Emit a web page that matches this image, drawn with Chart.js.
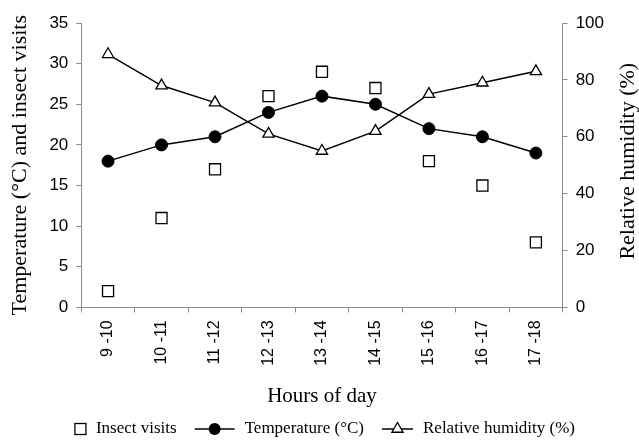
<!DOCTYPE html>
<html><head><meta charset="utf-8">
<script src="https://cdn.jsdelivr.net/npm/chart.js@4/dist/chart.umd.min.js"></script>
<style>html,body{margin:0;padding:0;background:#fff}#wrap{width:639px;height:440px}</style>
</head><body><div id="wrap"><canvas id="c" width="639" height="440"></canvas></div>
<script>
const hours = ['9 -10','10 -11','11 -12','12 -13','13 -14','14 -15','15 -16','16 -17','17 -18'];
const insectVisits = [2, 11, 17, 26, 29, 27, 18, 15, 8];
const temperature = [18, 20, 21, 24, 26, 25, 22, 21, 19];
const humidity = [89, 78, 72, 61, 55, 62, 75, 79, 83];
const leftTicks = [0, 5, 10, 15, 20, 25, 30, 35];
const rightTicks = [0, 20, 40, 60, 80, 100];
const leftTitle = 'Temperature (°C) and insect visits';
const rightTitle = 'Relative humidity (%)';
const xTitle = 'Hours of day';

const AXIS = '#8c8c8c';
const SANS = '"Liberation Sans", Arial, sans-serif';
const SERIF = '"Liberation Serif", "Times New Roman", serif';

const symbolWidths = [11, 40, 31];

const extrasPlugin = {
  id: 'extras',
  afterDraw(chart) {
    const ctx = chart.ctx;
    const area = chart.chartArea;
    // right axis title (reads bottom-to-top)
    ctx.save();
    ctx.font = '22px ' + SERIF;
    ctx.fillStyle = '#000';
    ctx.textAlign = 'center';
    ctx.textBaseline = 'middle';
    ctx.translate(chart.scales.y1.right - 11, (area.top + area.bottom) / 2 - 4);
    ctx.rotate(-Math.PI / 2);
    ctx.fillText(rightTitle, 0, 0);
    ctx.restore();

    // legend
    ctx.save();
    ctx.font = '17px ' + SERIF;
    const ds = chart.data.datasets;
    const gapSymText = 10, gapItem = 18;
    let total = 0;
    const widths = ds.map((d, i) => ctx.measureText(d.label).width);
    ds.forEach((d, i) => { total += symbolWidths[i] + gapSymText + widths[i]; if (i < ds.length - 1) total += gapItem; });
    let x = (area.left + area.right) / 2 + 3 - total / 2;
    const y = chart.height - 11;
    ds.forEach((d, i) => {
      const w = symbolWidths[i];
      ctx.strokeStyle = '#000';
      ctx.fillStyle = '#000';
      if (d.showLine !== false) {
        ctx.lineWidth = 1.5;
        ctx.beginPath(); ctx.moveTo(x, y); ctx.lineTo(x + w, y); ctx.stroke();
      }
      const cx = x + w / 2;
      ctx.lineWidth = 1.3;
      if (d.pointStyle === 'rect') {
        ctx.fillStyle = '#fff';
        ctx.fillRect(cx - 5.5, y - 5.5, 11, 11);
        ctx.strokeRect(cx - 5.5, y - 5.5, 11, 11);
      } else if (d.pointStyle === 'circle') {
        ctx.beginPath(); ctx.arc(cx, y, 6, 0, Math.PI * 2); ctx.fill();
      } else if (d.pointStyle === 'triangle') {
        const r = 6.5;
        ctx.beginPath();
        ctx.moveTo(cx, y - r);
        ctx.lineTo(cx + Math.sin(2 * Math.PI / 3) * r, y + r / 2);
        ctx.lineTo(cx - Math.sin(2 * Math.PI / 3) * r, y + r / 2);
        ctx.closePath();
        ctx.fillStyle = '#fff'; ctx.fill(); ctx.stroke();
      }
      x += w + gapSymText;
      ctx.fillStyle = '#000';
      ctx.textAlign = 'left';
      ctx.textBaseline = 'middle';
      ctx.fillText(d.label, x, y);
      x += widths[i] + gapItem;
    });
    ctx.restore();
  }
};

new Chart(document.getElementById('c'), {
  type: 'line',
  data: {
    labels: hours,
    datasets: [
      {
        label: 'Insect visits', data: insectVisits, yAxisID: 'y', showLine: false,
        pointStyle: 'rect', pointRadius: 7.8, pointBorderWidth: 1.3,
        pointBackgroundColor: '#fff', pointBorderColor: '#000', borderColor: '#000', order: 0
      },
      {
        label: 'Temperature (°C)', data: temperature, yAxisID: 'y',
        borderColor: '#000', borderWidth: 1.5, pointStyle: 'circle', pointRadius: 6,
        pointBackgroundColor: '#000', pointBorderColor: '#000', pointBorderWidth: 1, order: 1
      },
      {
        label: 'Relative humidity (%)', data: humidity, yAxisID: 'y1',
        borderColor: '#000', borderWidth: 1.5, pointStyle: 'triangle', pointRadius: 6.5,
        pointBackgroundColor: '#fff', pointBorderColor: '#000', pointBorderWidth: 1.3, order: 2
      }
    ]
  },
  options: {
    responsive: false,
    animation: false,
    devicePixelRatio: 1,
    layout: { padding: { left: 3, right: 0, top: 23, bottom: 27 } },
    plugins: { legend: { display: false }, tooltip: { enabled: false } },
    scales: {
      x: {
        offset: true,
        grid: { offset: true, drawOnChartArea: false, drawTicks: true, tickLength: 5, color: AXIS },
        border: { display: true, color: AXIS, width: 1 },
        ticks: { color: '#000', font: { family: SANS, size: 16 }, maxRotation: 90, minRotation: 90, padding: 8 },
        title: { display: true, text: xTitle, color: '#000', font: { family: SERIF, size: 21 }, padding: { top: 10, bottom: 4 } }
      },
      y: {
        position: 'left', min: 0, max: 35,
        afterBuildTicks: s => { s.ticks = leftTicks.map(v => ({ value: v })); },
        grid: { drawOnChartArea: false, drawTicks: true, tickLength: 5, color: AXIS },
        border: { display: true, color: AXIS, width: 1 },
        ticks: { color: '#000', font: { family: SANS, size: 17 }, padding: 8 },
        title: { display: true, text: leftTitle, color: '#000', font: { family: SERIF, size: 22 }, padding: { top: 4, bottom: 8 } }
      },
      y1: {
        position: 'right', min: 0, max: 100,
        afterBuildTicks: s => { s.ticks = rightTicks.map(v => ({ value: v })); },
        afterFit: s => { s.width += 27; },
        grid: { drawOnChartArea: false, drawTicks: true, tickLength: 5, color: AXIS },
        border: { display: true, color: AXIS, width: 1 },
        ticks: { color: '#000', font: { family: SANS, size: 17 }, padding: 8 }
      }
    }
  },
  plugins: [extrasPlugin]
});
</script></body></html>
